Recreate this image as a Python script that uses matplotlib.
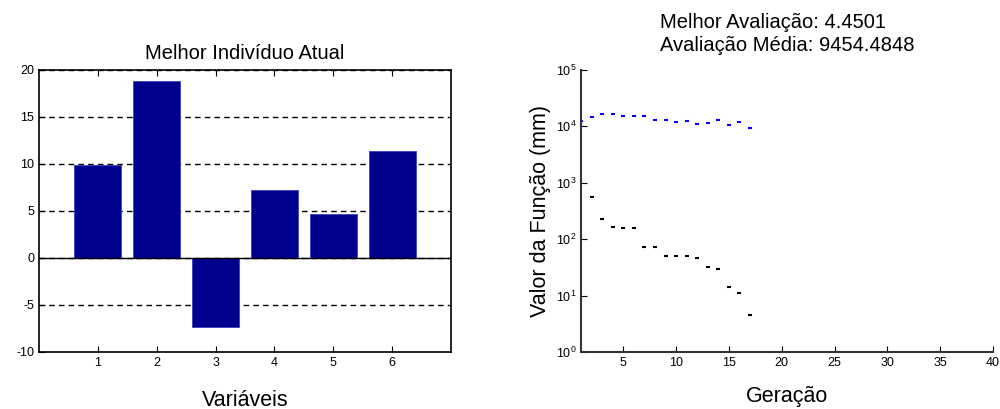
import numpy as np
import matplotlib.pyplot as plt

plt.rcParams['font.family'] = ['Liberation Sans', 'DejaVu Sans']
plt.rcParams['axes.unicode_minus'] = False

# melhor individuo atual
variaveis = [1, 2, 3, 4, 5, 6]
valores = [9.9, 18.8, -7.3, 7.2, 4.7, 11.4]

# evolucao por geracao
ger_melhor = list(range(2, 18))
melhor = [550, 230, 162, 158, 158, 72, 72, 50, 50, 50, 47, 32, 30, 14, 11, 4.4501]
ger_media = list(range(1, 18))
media = [12600, 14800, 16600, 16600, 15100, 15100, 15100, 12900, 12900,
         12000, 12300, 11200, 11500, 12900, 10500, 12000, 9454.4848]

fig = plt.figure(figsize=(10, 4.09), dpi=100)

ax1 = fig.add_axes([0.039, 0.1394, 0.412, 0.6895])
ax1.set_axisbelow(True)
ax1.bar(variaveis, valores, width=0.8, color='#00008f', edgecolor='#4040c0',
        linewidth=0.6, zorder=2)
ax1.axhline(0, color='k', lw=1, zorder=3)
ax1.set_xlim(0, 7)
ax1.set_ylim(-10, 20)
ax1.set_xticks(variaveis)
ax1.set_yticks([-10, -5, 0, 5, 10, 15, 20])
ax1.yaxis.grid(True, linestyle=(0, (4, 3)), color='k', lw=1)
ax1.tick_params(direction='in', top=True, labelsize=9, length=4)
ax1.set_title('Melhor Indivíduo Atual', fontsize=14.5, pad=8)
ax1.set_xlabel('Variáveis', fontsize=15.5, labelpad=15)
for s in ax1.spines.values():
    s.set_linewidth(1.2)

ax2 = fig.add_axes([0.581, 0.1394, 0.412, 0.6895])
ax2.set_yscale('log')
ax2.plot(ger_melhor, melhor, 'k_', ms=3, mew=1.5)
ax2.plot(ger_media, media, '_', color='#0000ff', ms=3, mew=1.5)
ax2.set_xlim(1, 40)
ax2.set_ylim(1, 1e5)
ax2.set_xticks(range(5, 41, 5))
ax2.set_yticks([1, 10, 100, 1e3, 1e4, 1e5])
ax2.minorticks_off()
ax2.spines['top'].set_visible(False)
ax2.spines['right'].set_visible(False)
for s in ['left', 'bottom']:
    ax2.spines[s].set_linewidth(1.5)
    ax2.spines[s].set_color('#333333')
ax2.tick_params(direction='in', labelsize=9, length=4)
ax2.set_title('Melhor Avaliação: 4.4501\nAvaliação Média: 9454.4848',
              fontsize=14.5, pad=14, linespacing=1.25, multialignment='left')
ax2.set_xlabel('Geração', fontsize=15.5, labelpad=12)
ax2.set_ylabel('Valor da Função (mm)', fontsize=15.5, labelpad=3)

fig.savefig('out.png', dpi=100)
